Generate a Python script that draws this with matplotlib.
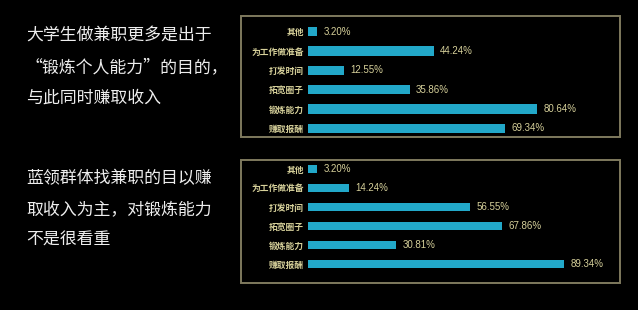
import matplotlib
matplotlib.use("Agg")
import matplotlib.pyplot as plt
from matplotlib.patches import Rectangle

plt.rcParams['font.family'] = ['Noto Sans CJK SC', 'DejaVu Sans']

categories = ['其他', '为工作做准备', '打发时间', '拓宽圈子', '锻炼能力', '赚取报酬']
students = [3.20, 44.24, 12.55, 35.86, 80.64, 69.34]
bluecollar = [3.20, 14.24, 56.55, 67.86, 30.81, 89.34]
text1 = ['大学生做兼职更多是出于', '“锻炼个人能力”的目的，', '与此同时赚取收入']
text2 = ['蓝领群体找兼职的目以赚', '取收入为主，对锻炼能力', '不是很看重']

W, H = 638, 310
fig = plt.figure(figsize=(W / 100, H / 100), dpi=100, facecolor='black')

BAR = '#22a8c9'
TXT = '#d6d09a'
BORDER = '#7f7a5e'


def fx(px):
    return px / W


def fy(py_top):
    return 1 - py_top / H


# borders
for (x0, y0, x1, y1) in [(241, 16, 620, 137), (241, 160, 620, 283)]:
    fig.patches.append(Rectangle((fx(x0), fy(y1)), fx(x1 - x0), (y1 - y0) / H,
                                 transform=fig.transFigure, fill=False,
                                 edgecolor=BORDER, linewidth=1.4))


def draw(top, bottom, values, xmax):
    left = 308
    width = 300
    ax = fig.add_axes([fx(left), fy(bottom), fx(width), (bottom - top) / H])
    ax.set_facecolor('none')
    y = list(range(len(categories)))
    ax.barh(y, values, height=0.47, color=BAR)
    ax.set_ylim(len(categories) - 0.5, -0.5)
    ax.set_xlim(0, xmax)
    ax.set_yticks(y)
    ax.set_yticklabels(categories, color=TXT, fontsize=6.3, fontweight='bold')
    ax.tick_params(axis='y', length=0, pad=3)
    ax.set_xticks([])
    for s in ax.spines.values():
        s.set_visible(False)
    for yi, v in zip(y, values):
        ax.annotate(f'{v:.2f}%', (v, yi), xytext=(4.5, 0), textcoords='offset points',
                    va='center', ha='left', color=TXT, fontsize=7,
                    family=['Liberation Sans', 'DejaVu Sans'])


draw(22, 138, students, 300 / 2.84)
draw(159.5, 273.5, bluecollar, 300 / 2.865)

for lines, ys in [(text1, [35, 67, 98]), (text2, [178, 210, 240])]:
    for line, yy in zip(lines, ys):
        fig.text(fx(26), fy(yy), line, color='#eeeeee', fontsize=12.2,
                 va='center', ha='left')

fig.savefig('out.png', dpi=100, facecolor='black')
